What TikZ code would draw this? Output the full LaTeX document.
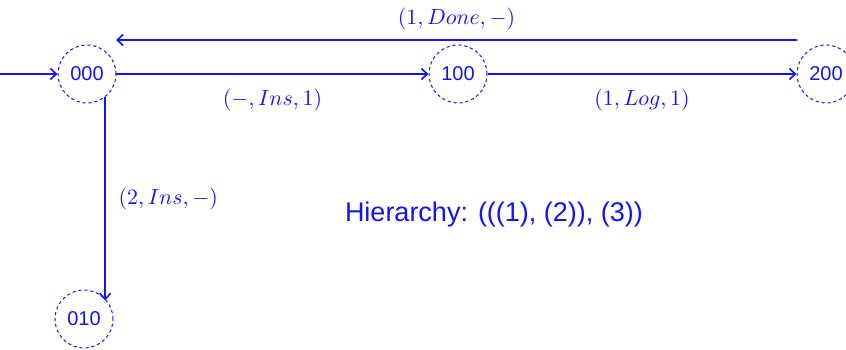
\documentclass[tikz,border=0pt]{standalone}
\usepackage{fontspec}
\setsansfont{Liberation Sans}
\usetikzlibrary{positioning,arrows.meta}

\definecolor{stateblue}{RGB}{20,20,240}

\begin{document}
\begin{tikzpicture}[
    >={Straight Barb[length=3pt,width=5.5pt]},
    state/.style={circle, draw=stateblue, dashed, dash pattern=on 1.6pt off 1.4pt, line width=0.5pt,
                  minimum size=29pt, inner sep=0pt, text=stateblue, font=\sffamily\fontsize{10}{12}\selectfont},
    edge/.style={draw=stateblue, line width=0.8pt},
    lbl/.style={text=stateblue, font=\fontsize{10.5}{12}\selectfont}
]
\useasboundingbox (-43.5pt,-137.5pt) rectangle (379.5pt,37pt);
\node[state] (s000) at (0,0) {000};
\node[state, right=156pt of s000] (s100) {100};
\node[state, right=154.5pt of s100] (s200) {200};
\node[state, below=93pt of s000, xshift=-1.5pt] (s010) {010};
\coordinate[left=29pt of s000] (init);
\coordinate (back1) at ([shift={(-14.5pt,17pt)}]s200.center);
\coordinate (back2) at ([shift={(14.5pt,17pt)}]s000.center);
\node[text=stateblue, font=\sffamily\fontsize{13.5}{16}\selectfont] (hier) at (203.5pt,-70.5pt) {Hierarchy: (((1), (2)), (3))};
\draw[edge, ->] (init) -- (s000);
\draw[edge, ->] (s000) -- node[lbl, below=4pt] {$(-,Ins,1)$} (s100);
\draw[edge, ->] (s100) -- node[lbl, below=4pt] {$(1,Log,1)$} (s200);
\draw[edge, ->] (back1) -- node[lbl, above=1.5pt] {$(1,Done,-)$} (back2);
\draw[edge, ->] (s000.-52) -- node[lbl, right=3pt] {$(2,Ins,-)$} (s000.-52 |- s010.39);
\end{tikzpicture}
\end{document}
